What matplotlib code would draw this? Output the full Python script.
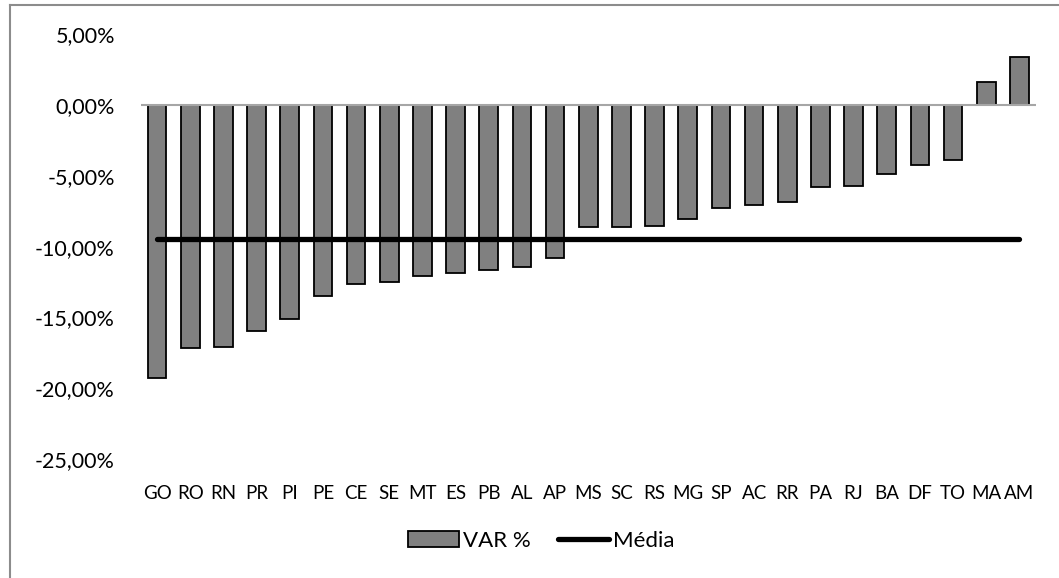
import matplotlib
matplotlib.use("Agg")
import matplotlib.pyplot as plt
from matplotlib.ticker import FuncFormatter, MultipleLocator
from matplotlib.lines import Line2D
from matplotlib.patches import Patch

# Percentage change by state (VAR %), sorted from lowest to highest
states = ["GO", "RO", "RN", "PR", "PI", "PE", "CE", "SE", "MT", "ES", "PB", "AL", "AP",
          "MS", "SC", "RS", "MG", "SP", "AC", "RR", "PA", "RJ", "BA", "DF", "TO", "MA", "AM"]
var_pct = [-19.30, -17.18, -17.07, -15.96, -15.11, -13.49, -12.66, -12.48, -12.08, -11.89,
           -11.65, -11.46, -10.83, -8.64, -8.59, -8.52, -8.07, -7.30, -7.09, -6.87,
           -5.77, -5.72, -4.85, -4.24, -3.86, 1.60, 3.41]
media_value = -9.48

plt.rcParams["font.family"] = ["Lato", "DejaVu Sans"]

fig = plt.figure(figsize=(10.59, 5.78), dpi=100)
ax = fig.add_axes([0.1327, 0.2059, 0.8456, 0.7349])

x = list(range(len(states)))
ax.bar(x, var_pct, width=0.56, color="#808080", edgecolor="#000000",
       linewidth=1.3, zorder=2)
ax.axhline(0, color="#a6a6a6", linewidth=1.5, zorder=2.5)
ax.plot(x, [media_value] * len(x), color="#000000", linewidth=3.8,
        solid_capstyle="round", zorder=3)

ax.set_xlim(-0.5, len(states) - 0.5)
ax.set_ylim(-25, 5)
ax.yaxis.set_major_locator(MultipleLocator(5))
ax.yaxis.set_major_formatter(
    FuncFormatter(lambda v, _: f"{v:.2f}".replace(".", ",") + "%"))
ax.set_xticks(x)
ax.set_xticklabels(states)
ax.xaxis.set_ticks_position("none")
ax.yaxis.set_ticks_position("none")
ax.tick_params(axis="y", labelsize=15.5, pad=15, colors="#000000")
ax.tick_params(axis="x", labelsize=13.5, pad=15, colors="#000000")
for side in ax.spines.values():
    side.set_visible(False)

handles = [Patch(facecolor="#808080", edgecolor="#000000", linewidth=1.3),
           Line2D([0], [0], color="#000000", linewidth=3.8, solid_capstyle="round")]
fig.legend(handles, ["VAR %", "Média"], loc="center", bbox_to_anchor=(0.511, 0.064),
           ncol=2, frameon=False, fontsize=16, handlelength=2.3, handleheight=0.7,
           handletextpad=0.2, columnspacing=1.2)

# chart frame
fig.add_artist(Line2D([10 / 1059, 1.0], [1 - 5 / 578, 1 - 5 / 578],
                      transform=fig.transFigure, color="#8c8c8c", linewidth=1.5))
fig.add_artist(Line2D([10 / 1059, 10 / 1059], [0.0, 1 - 5 / 578],
                      transform=fig.transFigure, color="#8c8c8c", linewidth=1.5))

fig.savefig("out.png", dpi=100)
